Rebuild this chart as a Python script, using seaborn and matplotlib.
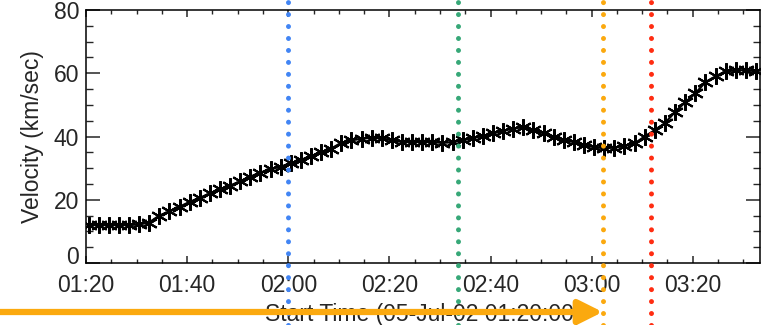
import matplotlib
matplotlib.use("Agg")
import matplotlib.pyplot as plt
import matplotlib.dates as mdates
import matplotlib.transforms as mtransforms
import numpy as np
import pandas as pd
import seaborn as sns

# Velocity profile, minutes after the start time 05-Jul-02 01:20:00
start_time = "2002-07-05 01:20:00"
minutes = [0.5, 2.5, 4.5, 6.5, 8.5, 10.5, 12.5, 14.5, 16.5, 18.5,
           20.5, 22.5, 24.5, 26.5, 28.5, 30.5, 32.5, 34.5, 36.5, 38.5,
           40.5, 42.5, 44.5, 46.5, 48.5, 50.5, 52.5, 54.5, 56.5, 58.5,
           60.5, 62.5, 64.5, 66.5, 68.5, 70.5, 72.5, 74.5, 76.5, 78.5,
           80.5, 82.5, 84.5, 86.5, 88.5, 90.5, 92.5, 94.5, 96.5, 98.5,
           100.5, 102.5, 104.5, 106.5, 108.5, 110.5, 112.5, 114.5, 116.5, 118.5,
           120.5, 122.5, 124.5, 126.5, 128.5, 130.5, 132.5]
velocity = [12.0, 12.0, 12.0, 12.0, 12.0, 12.2, 12.8, 15.0, 16.3, 17.8,
            19.3, 20.6, 22.0, 23.3, 24.5, 25.8, 27.3, 28.6, 29.6, 30.5,
            31.5, 32.6, 33.8, 35.0, 36.2, 38.0, 38.8, 39.3, 39.6, 39.4,
            38.8, 38.3, 38.2, 38.3, 38.2, 38.0, 38.2, 38.8, 39.5, 40.2,
            41.0, 41.8, 42.5, 43.0, 42.0, 41.0, 40.0, 39.0, 38.2, 37.3,
            36.6, 36.3, 36.5, 37.0, 37.8, 40.0, 42.0, 44.2, 47.8, 50.8,
            53.6, 57.2, 59.0, 60.6, 60.9, 61.0, 60.6]

# Marker times and their colours
event_times = ["2002-07-05 01:59:54", "2002-07-05 02:33:40",
               "2002-07-05 03:02:12", "2002-07-05 03:11:42"]
event_colors = ["#4285F4", "#37A878", "#FBA90F", "#FF2D12"]

t0 = pd.Timestamp(start_time)
df = pd.DataFrame({
    "time": [t0 + pd.Timedelta(minutes=m) for m in minutes],
    "velocity": velocity,
})

sns.set_style("ticks")
plt.rcParams["font.family"] = ["Liberation Sans", "DejaVu Sans"]
plt.rcParams["lines.scale_dashes"] = False

W, H, DPI = 761, 325, 100
fig = plt.figure(figsize=(W / DPI, H / DPI), dpi=DPI)
ax = fig.add_axes([86 / W, 62 / H, (760 - 86) / W, (263 - 10) / H])

sns.lineplot(data=df, x="time", y="velocity", ax=ax, color="black",
             linewidth=1.6, marker=(6, 2, 0), markersize=12,
             markeredgewidth=1.5, markeredgecolor="black")

ax.set_xlim(t0, t0 + pd.Timedelta(minutes=133.3))
ax.set_ylim(0, 80)
ax.xaxis.set_major_locator(mdates.MinuteLocator(byminute=[0, 20, 40]))
ax.xaxis.set_minor_locator(mdates.MinuteLocator(byminute=range(0, 60, 5)))
ax.xaxis.set_major_formatter(mdates.DateFormatter("%H:%M"))
ax.set_yticks([0, 20, 40, 60, 80])
ax.set_yticks(np.arange(0, 81, 5), minor=True)

for s in ax.spines.values():
    s.set_visible(True)
    s.set_linewidth(1.1)
    s.set_color("black")

FS = 16.5
ax.tick_params(axis="x", which="major", direction="in", length=5, width=1.1,
               top=True, bottom=True, labelsize=FS, pad=8)
ax.tick_params(axis="x", which="minor", direction="in", length=3, width=1.0,
               top=True, bottom=True)
ax.tick_params(axis="y", which="major", direction="in", length=10, width=1.1,
               left=True, right=True, labelsize=FS, pad=5)
ax.tick_params(axis="y", which="minor", direction="in", length=5, width=1.0,
               left=True, right=True)

# Lift the zero label so it sits clear of the time labels
zero_lbl = ax.get_yticklabels()[0]
zero_lbl.set_transform(zero_lbl.get_transform()
                       + mtransforms.ScaledTranslation(0, 6 / 72, fig.dpi_scale_trans))

ax.set_xlabel("Start Time (05-Jul-02 01:20:00)", fontsize=FS, labelpad=4)
ax.set_ylabel("Velocity (km/sec)", fontsize=FS, labelpad=7)

# Dotted event lines running across the full figure height
ax_h = 253.0
for et, col in zip(event_times, event_colors):
    line = ax.axvline(pd.Timestamp(et), ymin=-(325 - 263) / ax_h,
                      ymax=1 + 10 / ax_h, color=col, linewidth=3.6,
                      clip_on=False, zorder=5)
    line.set_linestyle((0, (0.01, 8.6)))
    line.set_dash_capstyle("round")

# Arrow pointing at the third event
ax.annotate("", xy=(pd.Timestamp(event_times[2]), 13),
            xycoords=("data", "figure pixels"),
            xytext=(0, 13), textcoords="figure pixels",
            arrowprops=dict(arrowstyle="-|>,head_length=1.2,head_width=0.6",
                            mutation_scale=12, color="#FBA90F", lw=4.5,
                            shrinkA=0, shrinkB=0),
            annotation_clip=False, zorder=6)

fig.savefig("out.png", dpi=DPI)
